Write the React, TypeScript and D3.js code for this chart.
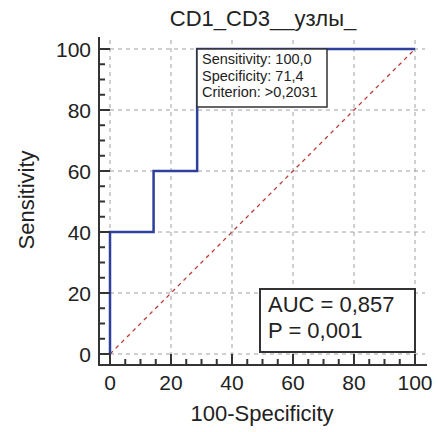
import React from 'react';
import * as d3 from 'd3';

const title = 'CD1_CD3__узлы_';
const xLabel = '100-Specificity';
const yLabel = 'Sensitivity';

// ROC steps (100-Specificity, Sensitivity)
const rocFpr = [0, 0, 14.29, 14.29, 28.57, 28.57, 100];
const rocTpr = [0, 40, 40, 60, 60, 100, 100];

const majorTicks = [0, 20, 40, 60, 80, 100];
const minorTicks = d3.range(0, 105, 5);

const criterionLines = ['Sensitivity: 100,0', 'Specificity: 71,4', 'Criterion: >0,2031'];
const statLines = ['AUC = 0,857', 'P = 0,001'];

const W = 438;
const H = 432;
const font = "'Liberation Sans', Arial, sans-serif";
const axisColor = '#333';
const textColor = '#222';

export default function App() {
  const x = d3.scaleLinear().domain([0, 100]).range([110, 415]);
  const y = d3.scaleLinear().domain([0, 100]).range([354, 49]);

  const axisX = 99;
  const axisY = 365;

  const line = d3
    .line<number>()
    .x((_, i) => x(rocFpr[i]))
    .y((_, i) => y(rocTpr[i]));

  return (
    <svg
      width={W}
      height={H}
      style={{ position: 'absolute', left: 0, top: 0, background: '#fff' }}
      fontFamily={font}
    >
      {/* title */}
      <text x={263} y={26} textAnchor="middle" fontSize={22} fill={textColor}>
        {title}
      </text>

      {/* grid */}
      <g stroke="#a0a0a0" strokeWidth={1} strokeDasharray="4,4">
        {majorTicks.map(t => (
          <line key={'h' + t} x1={x(0)} x2={425} y1={y(t)} y2={y(t)} />
        ))}
        {majorTicks.map(t => (
          <line key={'v' + t} x1={x(t)} x2={x(t)} y1={40} y2={y(0)} />
        ))}
      </g>

      {/* chance diagonal */}
      <line
        x1={x(0)}
        y1={y(0)}
        x2={x(100)}
        y2={y(100)}
        stroke="#b83a3a"
        strokeWidth={1.3}
        strokeDasharray="4,4"
      />

      {/* ROC curve */}
      <path d={line(rocFpr) || ''} fill="none" stroke="#2e3f9c" strokeWidth={2.5} />

      {/* axes */}
      <g stroke={axisColor} strokeWidth={2} fill="none">
        <line x1={axisX} x2={axisX} y1={37} y2={axisY + 1} />
        <line x1={axisX - 1} x2={427} y1={axisY} y2={axisY} />
        {minorTicks.map(t => (
          <line key={'ly' + t} x1={axisX} x2={majorTicks.includes(t) ? 110 : 105} y1={y(t)} y2={y(t)} />
        ))}
        {minorTicks.map(t => (
          <line key={'lx' + t} x1={x(t)} x2={x(t)} y1={axisY} y2={majorTicks.includes(t) ? 354 : 359} />
        ))}
      </g>

      {/* tick labels */}
      <g fontSize={21} fill={textColor}>
        {majorTicks.map(t => (
          <text key={'ty' + t} x={91} y={y(t)} dy="0.36em" textAnchor="end">
            {t}
          </text>
        ))}
        {majorTicks.map(t => (
          <text key={'tx' + t} x={x(t)} y={390} textAnchor="middle">
            {t}
          </text>
        ))}
      </g>

      {/* axis titles */}
      <text x={262} y={421} textAnchor="middle" fontSize={22} fill={textColor}>
        {xLabel}
      </text>
      <text
        transform="translate(34,200) rotate(-90)"
        textAnchor="middle"
        fontSize={22}
        fill={textColor}
      >
        {yLabel}
      </text>

      {/* criterion box */}
      <rect x={197} y={49} width={130} height={58} fill="#fff" stroke={axisColor} strokeWidth={1.5} />
      {criterionLines.map((s, i) => (
        <text key={s} x={202} y={64 + i * 16.5} fontSize={14.5} fill={textColor}>
          {s}
        </text>
      ))}

      {/* AUC box */}
      <rect x={260} y={289} width={155} height={63} fill="#fff" stroke={axisColor} strokeWidth={2} />
      {statLines.map((s, i) => (
        <text key={s} x={268} y={312 + i * 26} fontSize={22} fill={textColor}>
          {s}
        </text>
      ))}
    </svg>
  );
}
